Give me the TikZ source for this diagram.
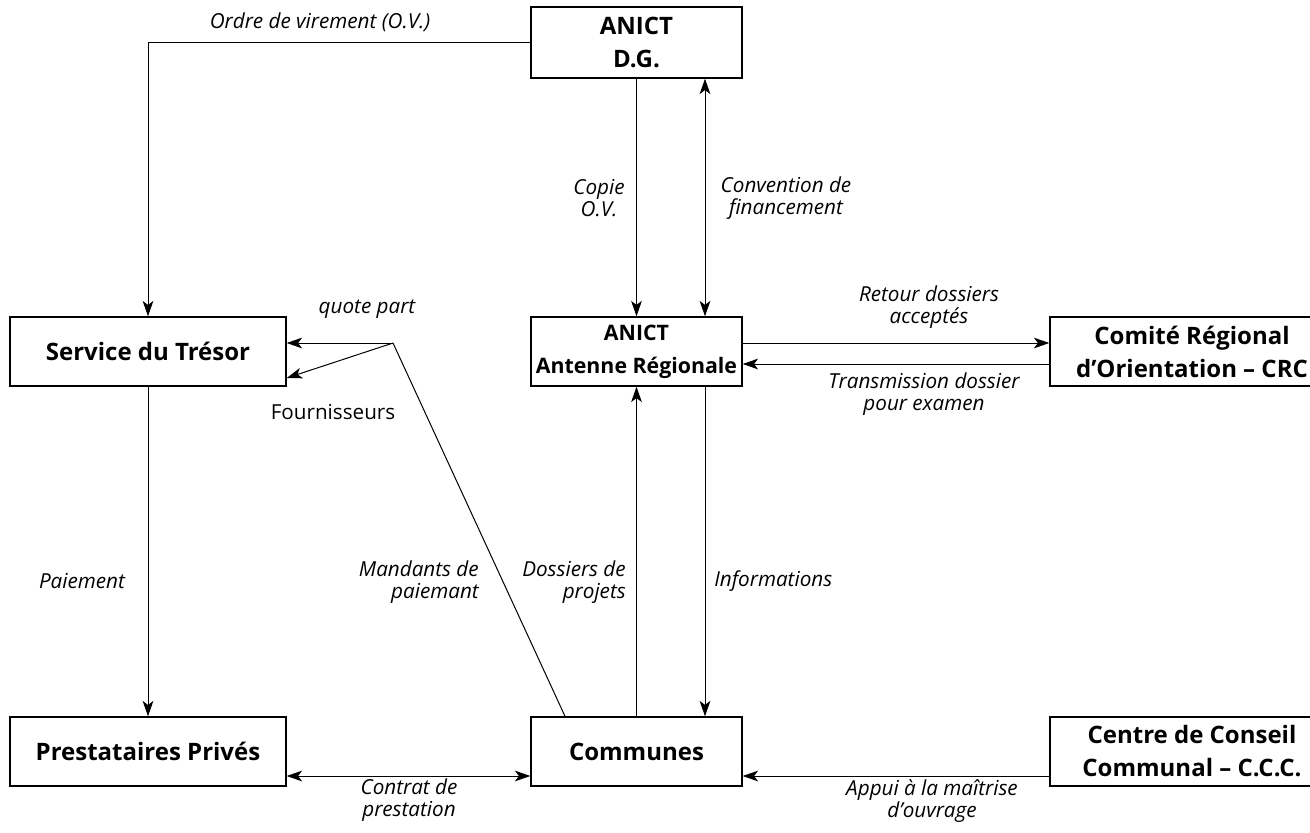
\documentclass[tikz,border=0pt]{standalone}
\usepackage{fontspec}
\setmainfont{Open Sans}
\usetikzlibrary{arrows.meta}
\tikzset{
  box/.style={draw, line width=1.1pt, align=center, inner sep=0pt,
    font=\fontsize{18}{24.75}\selectfont\bfseries},
  lbl/.style={align=center, inner sep=0pt, font=\fontsize{15.5}{16}\selectfont\itshape},
  rlbl/.style={inner sep=0pt, font=\fontsize{15.5}{16}\selectfont},
  conn/.style={line width=0.75pt},
  arr/.style={conn, -{Stealth[length=11.5pt,width=8pt,inset=3pt]}},
  dbl/.style={conn, {Stealth[length=11.5pt,width=8pt,inset=3pt]}-{Stealth[length=11.5pt,width=8pt,inset=3pt]}}
}
\begin{document}
\begin{tikzpicture}[x=0.75pt,y=-0.75pt]
\useasboundingbox (0,0) rectangle (1310,832);
% boxes
\node[box, minimum width=158.25pt, minimum height=53.25pt] (DG) at (636.5,42.5) {ANICT\\D.G.};
\node[box, minimum width=207pt, minimum height=51.75pt] (ST) at (148,351.5) {Service du Trésor};
\node[box, minimum width=158.25pt, minimum height=51.75pt, font=\fontsize{16}{24.75}\selectfont\bfseries] (AR) at (636.5,351.5) {ANICT\\Antenne Régionale};
\node[box, minimum width=213pt, minimum height=51.75pt] (CRC) at (1192,351.5) {Comité Régional\\d’Orientation – CRC};
\node[box, minimum width=207pt, minimum height=51.75pt] (PP) at (148,751.5) {Prestataires Privés};
\node[box, minimum width=158.25pt, minimum height=51.75pt] (CO) at (636.5,751.5) {Communes};
\node[box, minimum width=213pt, minimum height=51.75pt] (CCC) at (1192,751.5) {Centre de Conseil\\Communal – C.C.C.};
% connectors
\draw[arr] (DG.west) -| (ST.north);
\draw[arr] (DG.south) -- (AR.north);
\draw[dbl] (DG.south -| 705,0) -- (AR.north -| 705,0);
\draw[arr] (AR.east |- 0,343) -- (CRC.west |- 0,343);
\draw[arr] (CRC.west |- 0,364) -- (AR.east |- 0,364);
\draw[arr] (ST.south) -- (PP.north);
\draw[arr] (CO.north) -- (AR.south);
\draw[arr] (AR.south -| 705,0) -- (CO.north -| 705,0);
\draw[dbl] (PP.east |- 0,776) -- (CO.west |- 0,776);
\draw[arr] (CCC.west |- 0,776) -- (CO.east |- 0,776);
\coordinate (q) at (393,343);
\draw[conn] (CO.north -| 565,0) -- (q);
\draw[arr] (q) -- (ST.east |- q);
\draw[arr] (q) -- (ST.east |- 0,378);
% labels
\node[lbl] (l1) at (320,22) {Ordre de virement (O.V.)};
\node[lbl] (l2) at (599,198) {Copie\\O.V.};
\node[lbl] (l3) at (786,198) {Convention de\\financement};
\node[lbl] (l4) at (929,307) {Retour dossiers\\acceptés};
\node[lbl] (l5) at (924,394) {Transmission dossier\\pour examen};
\node[lbl] (l6) at (367,309) {quote part};
\node[rlbl] (l7) at (333,412) {Fournisseurs};
\node[lbl] (l8) at (82,581) {Paiement};
\node[lbl, align=right, anchor=east] (l9) at (479,582) {Mandants de\\paiemant};
\node[lbl, align=right, anchor=east] (l10) at (626,582) {Dossiers de\\projets};
\node[lbl, anchor=west] (l11) at (714,581) {Informations};
\node[lbl] (l12) at (409,800) {Contrat de\\prestation};
\node[lbl] (l13) at (932,801) {Appui à la maîtrise\\d’ouvrage};
\end{tikzpicture}
\end{document}
